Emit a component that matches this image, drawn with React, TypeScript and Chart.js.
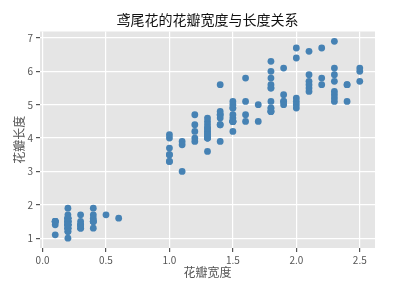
import React, { useEffect, useRef } from "react";
import { Chart, registerables } from "chart.js";

Chart.register(...registerables);

const title = "鸢尾花的花瓣宽度与长度关系";
const xLabel = "花瓣宽度";
const yLabel = "花瓣长度";

// Iris petal width (x) and petal length (y)
const petalWidth = [
  0.2, 0.2, 0.2, 0.2, 0.2, 0.4, 0.3, 0.2, 0.2, 0.1,
  0.2, 0.2, 0.1, 0.1, 0.2, 0.4, 0.4, 0.3, 0.3, 0.3,
  0.2, 0.4, 0.2, 0.5, 0.2, 0.2, 0.4, 0.2, 0.2, 0.2,
  0.2, 0.4, 0.1, 0.2, 0.1, 0.2, 0.2, 0.1, 0.2, 0.2,
  0.3, 0.3, 0.2, 0.6, 0.4, 0.3, 0.2, 0.2, 0.2, 0.2,
  1.4, 1.5, 1.5, 1.3, 1.5, 1.3, 1.6, 1.0, 1.3, 1.4,
  1.0, 1.5, 1.0, 1.4, 1.3, 1.4, 1.5, 1.0, 1.5, 1.1,
  1.8, 1.3, 1.5, 1.2, 1.3, 1.4, 1.4, 1.7, 1.5, 1.0,
  1.1, 1.0, 1.2, 1.6, 1.5, 1.6, 1.5, 1.3, 1.3, 1.3,
  1.2, 1.4, 1.2, 1.0, 1.3, 1.2, 1.3, 1.3, 1.1, 1.3,
  2.5, 1.9, 2.1, 1.8, 2.2, 2.1, 1.7, 1.8, 1.8, 2.5,
  2.0, 1.9, 2.1, 2.0, 2.4, 2.3, 1.8, 2.2, 2.3, 1.5,
  2.3, 2.0, 2.0, 1.8, 2.1, 1.8, 1.8, 1.8, 2.1, 1.6,
  1.9, 2.0, 2.2, 1.5, 1.4, 2.3, 2.4, 1.8, 1.8, 2.1,
  2.4, 2.3, 1.9, 2.3, 2.5, 2.3, 1.9, 2.0, 2.3, 1.8,
];

const petalLength = [
  1.4, 1.4, 1.3, 1.5, 1.4, 1.7, 1.4, 1.5, 1.4, 1.5,
  1.5, 1.6, 1.4, 1.1, 1.2, 1.5, 1.3, 1.4, 1.7, 1.5,
  1.7, 1.5, 1.0, 1.7, 1.9, 1.6, 1.6, 1.5, 1.4, 1.6,
  1.6, 1.5, 1.5, 1.4, 1.5, 1.2, 1.3, 1.5, 1.3, 1.5,
  1.3, 1.3, 1.3, 1.6, 1.9, 1.4, 1.6, 1.4, 1.5, 1.4,
  4.7, 4.5, 4.9, 4.0, 4.6, 4.5, 4.7, 3.3, 4.6, 3.9,
  3.5, 4.2, 4.0, 4.7, 3.6, 4.4, 4.5, 4.1, 4.5, 3.9,
  4.8, 4.0, 4.9, 4.7, 4.3, 4.4, 4.8, 5.0, 4.5, 3.5,
  3.8, 3.7, 3.9, 5.1, 4.5, 4.5, 4.7, 4.4, 4.1, 4.0,
  4.4, 4.6, 4.0, 3.3, 4.2, 4.2, 4.2, 4.3, 3.0, 4.1,
  6.0, 5.1, 5.9, 5.6, 5.8, 6.6, 4.5, 6.3, 5.8, 6.1,
  5.1, 5.3, 5.5, 5.0, 5.1, 5.3, 5.5, 6.7, 6.9, 5.0,
  5.7, 4.9, 6.7, 4.9, 5.7, 6.0, 4.8, 4.9, 5.6, 5.8,
  6.1, 6.4, 5.6, 5.1, 5.6, 6.1, 5.6, 5.5, 4.8, 5.4,
  5.6, 5.1, 5.1, 5.9, 5.7, 5.2, 5.0, 5.2, 5.4, 5.1,
];

const xTicks = [0.0, 0.5, 1.0, 1.5, 2.0, 2.5];
const yTicks = [1, 2, 3, 4, 5, 6, 7];

const FONT = "'Noto Sans CJK SC', 'DejaVu Sans', sans-serif";

const bgPlugin = {
  id: "panelBg",
  beforeDraw(chart: any) {
    const { ctx, chartArea } = chart;
    ctx.save();
    ctx.fillStyle = "#E5E5E5";
    ctx.fillRect(chartArea.left, chartArea.top, chartArea.right - chartArea.left, chartArea.bottom - chartArea.top);
    ctx.restore();
  },
  afterDraw(chart: any) {
    const { ctx, chartArea } = chart;
    ctx.save();
    ctx.fillStyle = "#111";
    ctx.font = `14px ${FONT}`;
    ctx.textAlign = "center";
    ctx.textBaseline = "middle";
    ctx.fillText(title, (chartArea.left + chartArea.right) / 2, 20);
    ctx.restore();
  },
};

export default function App() {
  const ref = useRef<HTMLCanvasElement | null>(null);

  useEffect(() => {
    if (!ref.current) return;
    const xMin = Math.min(...petalWidth);
    const xMax = Math.max(...petalWidth);
    const yMin = Math.min(...petalLength);
    const yMax = Math.max(...petalLength);
    const xm = (xMax - xMin) * 0.05;
    const ym = (yMax - yMin) * 0.05;
    const points = petalWidth.map((x, i) => ({ x, y: petalLength[i] }));
    const chart = new Chart(ref.current, {
      type: "scatter",
      data: {
        datasets: [
          {
            data: points,
            backgroundColor: "#4682B4",
            borderWidth: 0,
            pointRadius: 3.4,
          },
        ],
      },
      plugins: [bgPlugin],
      options: {
        responsive: false,
        animation: false,
        layout: { padding: { left: 0, right: 21, top: 31.5, bottom: 0 } },
        plugins: {
          legend: { display: false },
          tooltip: { enabled: false },
          title: { display: false },
        },
        scales: {
          x: {
            type: "linear",
            min: xMin - xm,
            max: xMax + xm,
            afterFit: (s: any) => { s.height = 44; },
            afterBuildTicks: (s: any) => { s.ticks = xTicks.map((v) => ({ value: v })); },
            ticks: {
              color: "#555",
              font: { family: FONT, size: 10 },
              padding: 2,
              maxRotation: 0,
              callback: (v: any) => Number(v).toFixed(1),
            },
            grid: { color: "#FFFFFF", lineWidth: 1.2, tickColor: "#555", tickLength: 4 },
            border: { display: false },
            title: {
              display: true,
              text: xLabel,
              color: "#555",
              font: { family: FONT, size: 12 },
              padding: { top: 0, bottom: 12 },
            },
          },
          y: {
            type: "linear",
            min: yMin - ym,
            max: yMax + ym,
            afterFit: (s: any) => { s.width = 40; },
            afterBuildTicks: (s: any) => { s.ticks = yTicks.map((v) => ({ value: v })); },
            ticks: {
              color: "#555",
              font: { family: FONT, size: 10 },
              padding: 3,
              callback: (v: any) => String(v),
            },
            grid: { color: "#FFFFFF", lineWidth: 1.2, tickColor: "#555", tickLength: 4 },
            border: { display: false },
            title: {
              display: true,
              text: yLabel,
              color: "#555",
              font: { family: FONT, size: 12 },
              padding: { top: 12, bottom: 0 },
            },
          },
        },
      },
    });
    return () => chart.destroy();
  }, []);

  return (
    <div style={{ position: "absolute", left: 0, top: 0, width: 396, height: 292, background: "#fff" }}>
      <canvas ref={ref} width={396} height={292} />
    </div>
  );
}
